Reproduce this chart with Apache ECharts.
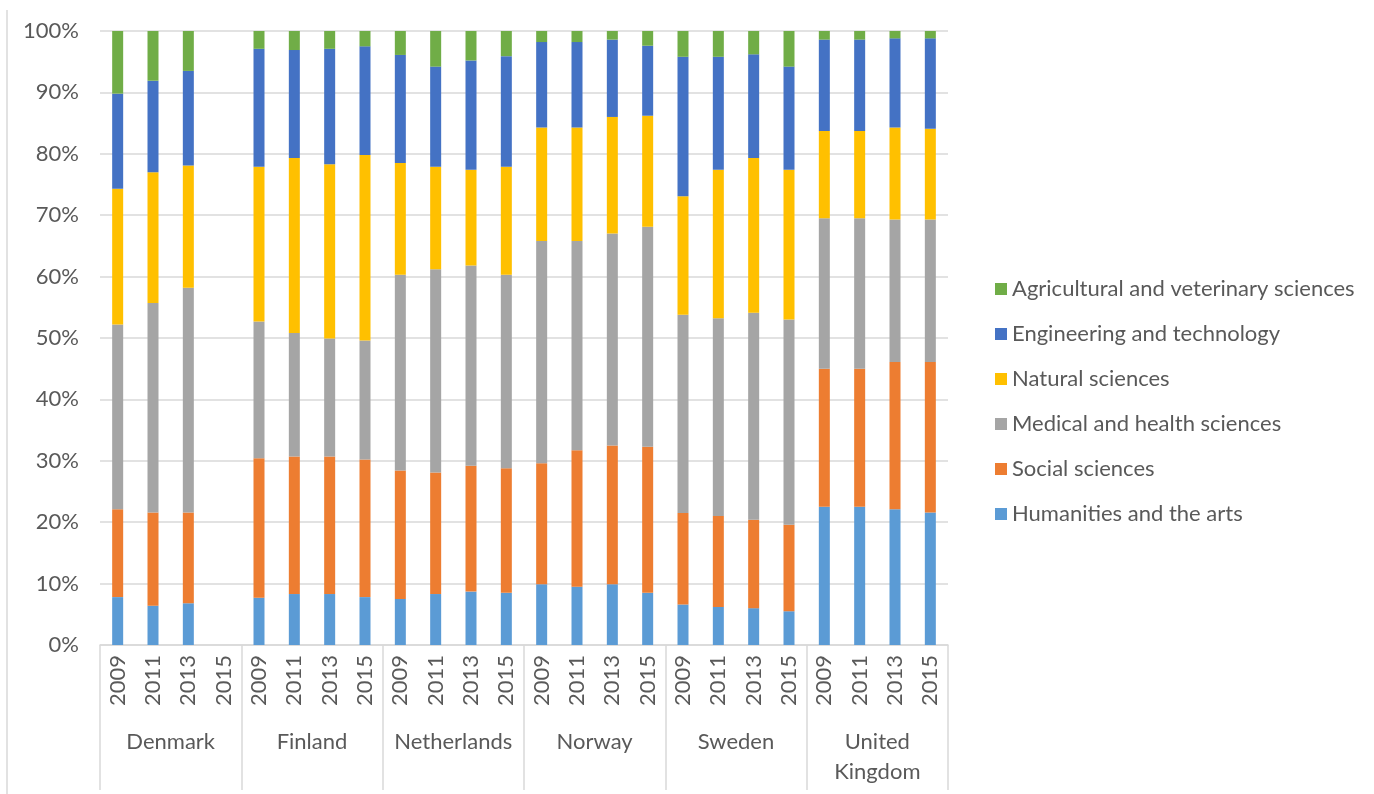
<!DOCTYPE html>
<html>
<head>
<meta charset="utf-8">
<script src="https://cdn.jsdelivr.net/npm/echarts@6/dist/echarts.min.js"></script>
<style>
html,body{margin:0;padding:0;background:#fff;}
#chart{width:1374px;height:794px;}
</style>
</head>
<body>
<div id="chart"></div>
<script>
const years = ['2009','2011','2013','2015'];
const countries = ['Denmark','Finland','Netherlands','Norway','Sweden','United\nKingdom'];
const yTicks = [0,10,20,30,40,50,60,70,80,90,100];

// order: Denmark(4), Finland(4), Netherlands(4), Norway(4), Sweden(4), UK(4)
const humanities = [7.8,6.4,6.8,null, 7.7,8.3,8.3,7.8, 7.5,8.3,8.7,8.5, 9.9,9.5,9.9,8.5, 6.6,6.2,6.0,5.5, 22.5,22.5,22.1,21.6];
const social     = [14.3,15.2,14.8,null, 22.7,22.4,22.4,22.4, 20.9,19.8,20.5,20.3, 19.7,22.2,22.6,23.8, 14.9,14.8,14.4,14.1, 22.5,22.5,24.0,24.5];
const medical    = [30.1,34.1,36.6,null, 22.3,20.1,19.2,19.4, 31.9,33.1,32.6,31.5, 36.2,34.1,34.5,35.8, 32.3,32.2,33.7,33.4, 24.5,24.5,23.2,23.2];
const natural    = [22.1,21.3,19.9,null, 25.2,28.5,28.4,30.2, 18.2,16.7,15.6,17.6, 18.5,18.5,19.0,18.1, 19.3,24.2,25.2,24.4, 14.2,14.2,15.0,14.8];
const engineering= [15.5,14.9,15.4,null, 19.2,17.6,18.8,17.7, 17.6,16.3,17.8,18.0, 13.9,13.9,12.6,11.4, 22.7,18.4,16.9,16.8, 14.9,14.9,14.5,14.7];
const agricultural=[10.2,8.1,6.5,null, 2.9,3.1,2.9,2.5, 3.9,5.8,4.8,4.1, 1.8,1.8,1.4,2.4, 4.2,4.2,3.8,5.8, 1.4,1.4,1.2,1.2];

const seriesNames = ['Humanities and the arts','Social sciences','Medical and health sciences','Natural sciences','Engineering and technology','Agricultural and veterinary sciences'];
const seriesData = [humanities, social, medical, natural, engineering, agricultural];
const colors = ['#5B9BD5','#ED7D31','#A5A5A5','#FFC000','#4472C4','#70AD47'];

const categories = [];
countries.forEach(() => years.forEach(y => categories.push(y)));

const FONT = 'Lato, "Open Sans", sans-serif';
const chart = echarts.init(document.getElementById('chart'));
chart.setOption({
  animation: false,
  backgroundColor: '#ffffff',
  textStyle: { fontFamily: FONT },
  grid: { left: 100, right: 426, top: 31, bottom: 149, containLabel: false },
  legend: {
    orient: 'vertical',
    left: 990,
    top: 273,
    itemWidth: 12,
    itemHeight: 12,
    itemGap: 23,
    icon: 'rect',
    data: seriesNames.slice().reverse(),
    textStyle: { fontFamily: FONT, fontSize: 22, color: '#595959', lineHeight: 22 }
  },
  xAxis: [
    {
      type: 'category',
      data: categories,
      position: 'bottom',
      axisLine: { show: true, lineStyle: { color: '#d9d9d9', width: 1.5 } },
      axisTick: { show: false },
      axisLabel: { rotate: 90, interval: 0, margin: 10, fontSize: 22, color: '#595959', fontFamily: FONT }
    },
    {
      type: 'category',
      data: countries,
      position: 'bottom',
      gridIndex: 0,
      axisLine: { show: false },
      axisTick: { show: true, length: 145, lineStyle: { color: '#d9d9d9', width: 1.5 } },
      axisLabel: { interval: 0, margin: 82, fontSize: 22, color: '#595959', fontFamily: FONT, lineHeight: 30 }
    }
  ],
  yAxis: {
    type: 'value',
    min: yTicks[0],
    max: yTicks[yTicks.length - 1],
    interval: 10,
    axisLine: { show: false },
    axisTick: { show: false },
    splitLine: { lineStyle: { color: '#d9d9d9', width: 1.5 } },
    axisLabel: { formatter: '{value}%', margin: 21, fontSize: 22, color: '#595959', fontFamily: FONT }
  },
  graphic: [
    { type: 'line', shape: { x1: 7, y1: 10, x2: 7, y2: 794 }, style: { stroke: '#d9d9d9', lineWidth: 1.5 } }
  ],
  series: seriesNames.map((name, i) => ({
    name: name,
    type: 'bar',
    stack: 'total',
    xAxisIndex: 0,
    barWidth: 11,
    data: seriesData[i],
    itemStyle: { color: colors[i] }
  }))
});
</script>
</body>
</html>
